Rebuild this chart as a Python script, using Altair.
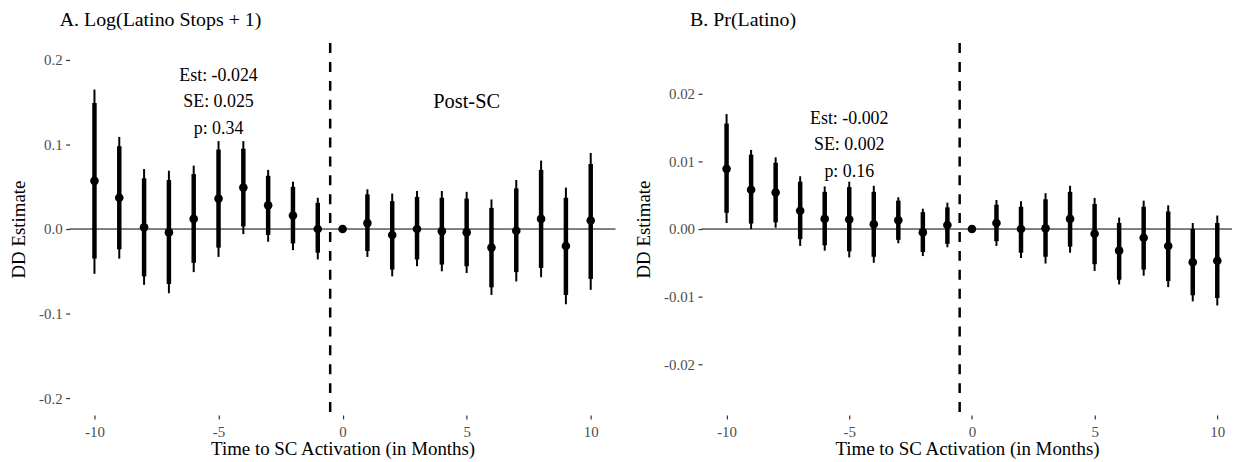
import altair as alt
import pandas as pd

FONT = "Liberation Serif"

months = list(range(-10, 11))

# Panel A: Log(Latino Stops + 1)
est_a = [0.057, 0.037, 0.002, -0.004, 0.012, 0.036, 0.049, 0.028, 0.016, 0.000,
         0.000, 0.007, -0.007, 0.000, -0.0025, -0.004, -0.022, -0.002, 0.012, -0.020, 0.010]
lo95_a = [-0.053, -0.035, -0.066, -0.076, -0.051, -0.033, -0.006, -0.015, -0.025, -0.036,
          None, -0.033, -0.056, -0.044, -0.050, -0.052, -0.078, -0.062, -0.057, -0.089, -0.072]
hi95_a = [0.165, 0.109, 0.071, 0.069, 0.075, 0.104, 0.104, 0.070, 0.056, 0.037,
          None, 0.047, 0.042, 0.045, 0.045, 0.044, 0.035, 0.058, 0.081, 0.049, 0.090]
lo90_a = [-0.035, -0.024, -0.056, -0.065, -0.040, -0.022, 0.003, -0.007, -0.017, -0.028,
          None, -0.026, -0.048, -0.036, -0.042, -0.044, -0.069, -0.051, -0.046, -0.078, -0.059]
hi90_a = [0.149, 0.098, 0.060, 0.058, 0.065, 0.094, 0.095, 0.063, 0.050, 0.031,
          None, 0.041, 0.033, 0.038, 0.037, 0.036, 0.025, 0.048, 0.070, 0.037, 0.077]

# Panel B: Pr(Latino)
est_b = [0.0089, 0.0058, 0.0054, 0.0027, 0.0015, 0.0014, 0.0007, 0.0013, -0.0005, 0.0006,
         0.0, 0.0009, 0.0, 0.0001, 0.0015, -0.0007, -0.0032, -0.0013, -0.0025, -0.0049, -0.0047]
lo95_b = [0.0009, 0.0000, 0.0002, -0.0025, -0.0032, -0.0042, -0.0050, -0.0021, -0.0040, -0.0027,
          None, -0.0025, -0.0043, -0.0051, -0.0035, -0.0062, -0.0082, -0.0069, -0.0086, -0.0107, -0.0113]
hi95_b = [0.0170, 0.0117, 0.0106, 0.0078, 0.0063, 0.0070, 0.0064, 0.0047, 0.0030, 0.0039,
          None, 0.0043, 0.0041, 0.0053, 0.0064, 0.0046, 0.0017, 0.0042, 0.0035, 0.0009, 0.0020]
lo90_b = [0.0024, 0.0008, 0.0010, -0.0015, -0.0024, -0.0033, -0.0041, -0.0016, -0.0034, -0.0022,
          None, -0.0018, -0.0035, -0.0041, -0.0026, -0.0052, -0.0075, -0.0060, -0.0077, -0.0098, -0.0102]
hi90_b = [0.0156, 0.0110, 0.0098, 0.0070, 0.0055, 0.0062, 0.0055, 0.0042, 0.0025, 0.0032,
          None, 0.0036, 0.0033, 0.0044, 0.0055, 0.0037, 0.0009, 0.0033, 0.0026, 0.0000, 0.0009]

title_a = "A. Log(Latino Stops + 1)"
title_b = "B. Pr(Latino)"
stats_a = ["Est: -0.024", "SE: 0.025", "p: 0.34"]
stats_b = ["Est: -0.002", "SE: 0.002", "p: 0.16"]
stats_y_a = [0.1814, 0.1501, 0.118]
stats_y_b = [0.01632, 0.0124, 0.00849]
post_label = "Post-SC"
post_y_a = 0.15
x_ticks = [-10, -5, 0, 5, 10]
y_ticks_a = [-0.2, -0.1, 0.0, 0.1, 0.2]
y_ticks_b = [-0.02, -0.01, 0.0, 0.01, 0.02]
x_title = "Time to SC Activation (in Months)"
y_title = "DD Estimate"


def panel(est, lo95, hi95, lo90, hi90, xdom, ydom, yticks, dec, title, stats, stats_y,
          post_y, width, title_dx):
    df = pd.DataFrame({"t": months, "est": est, "lo95": lo95, "hi95": hi95,
                       "lo90": lo90, "hi90": hi90})
    bars = df.dropna()

    xscale = alt.Scale(domain=xdom, nice=False, zero=False)
    yscale = alt.Scale(domain=ydom, nice=False, zero=False)
    xaxis = alt.Axis(values=x_ticks,
                     labelExpr="datum.value < 0 ? '-' + format(-datum.value, 'd') : format(datum.value, 'd')",
                     tickSize=4, tickColor="#333333", tickWidth=1.2, domain=False, grid=False,
                     labelColor="#4D4D4D", labelFontSize=15, labelFont=FONT, labelPadding=6,
                     titleFontSize=19, titleFont=FONT, titleFontWeight="normal",
                     titleColor="black", titlePadding=0)
    fmt = "." + str(dec) + "f"
    yaxis = alt.Axis(values=yticks,
                     labelExpr="datum.value < 0 ? '-' + format(-datum.value, '" + fmt + "') : format(datum.value, '" + fmt + "')",
                     tickSize=4, tickColor="#333333", tickWidth=1.2, domain=False, grid=False,
                     labelColor="#4D4D4D", labelFontSize=15, labelFont=FONT, labelPadding=3.5,
                     titleFontSize=19, titleFont=FONT, titleFontWeight="normal",
                     titleColor="black", titlePadding=10)

    def X(f):
        return alt.X(f, type="quantitative", scale=xscale, axis=xaxis, title=x_title)

    def Y(f):
        return alt.Y(f, type="quantitative", scale=yscale, axis=yaxis, title=y_title)

    hline = alt.Chart(pd.DataFrame({"y": [0.0]})).mark_rule(color="black", strokeWidth=1).encode(y=Y("y"))
    vline = alt.Chart(pd.DataFrame({"t": [-0.5]})).mark_rule(
        color="black", strokeWidth=2.5, strokeDash=[10, 9]).encode(x=X("t"))
    outer = alt.Chart(bars).mark_rule(color="black", strokeWidth=2).encode(
        x=X("t"), y=Y("lo95"), y2="hi95")
    inner = alt.Chart(bars).mark_rule(color="black", strokeWidth=4.5).encode(
        x=X("t"), y=Y("lo90"), y2="hi90")
    pts = alt.Chart(df).mark_point(filled=True, color="black", opacity=1, size=75).encode(
        x=X("t"), y=Y("est"))
    ann = alt.Chart(pd.DataFrame({"t": [-5] * 3, "y": stats_y, "label": stats})).mark_text(
        font=FONT, fontSize=18, color="black", baseline="middle", align="center").encode(
        x=X("t"), y=Y("y"), text="label:N")
    layers = [hline, vline, outer, inner, pts, ann]
    if post_y is not None:
        post = alt.Chart(pd.DataFrame({"t": [5], "y": [post_y], "label": [post_label]})).mark_text(
            font=FONT, fontSize=20.5, color="black", baseline="middle", align="center").encode(
            x=X("t"), y=Y("y"), text="label:N")
        layers.append(post)
    return alt.layer(*layers).properties(
        width=width, height=374,
        title=alt.TitleParams(title, anchor="start", frame="group", fontSize=20,
                              fontWeight="normal", font=FONT, color="black",
                              dx=title_dx, offset=12, baseline="top"))


pa = panel(est_a, lo95_a, hi95_a, lo90_a, hi90_a, [-11, 11], [-0.22, 0.22], y_ticks_a, 1,
           title_a, stats_a, stats_y_a, post_y_a, 549, -10)
pb = panel(est_b, lo95_b, hi95_b, lo90_b, hi90_b, [-11, 10.6], [-0.0275, 0.0275], y_ticks_b, 2,
           title_b, stats_b, stats_y_b, None, 533, -12)

chart = alt.hconcat(pa, pb, spacing=18).properties(
    padding={"left": 1, "top": 0, "right": 0, "bottom": 0}
).configure(font=FONT).configure_view(stroke=None)

chart.save("out.html", embed_options={"renderer": "svg", "actions": False})
